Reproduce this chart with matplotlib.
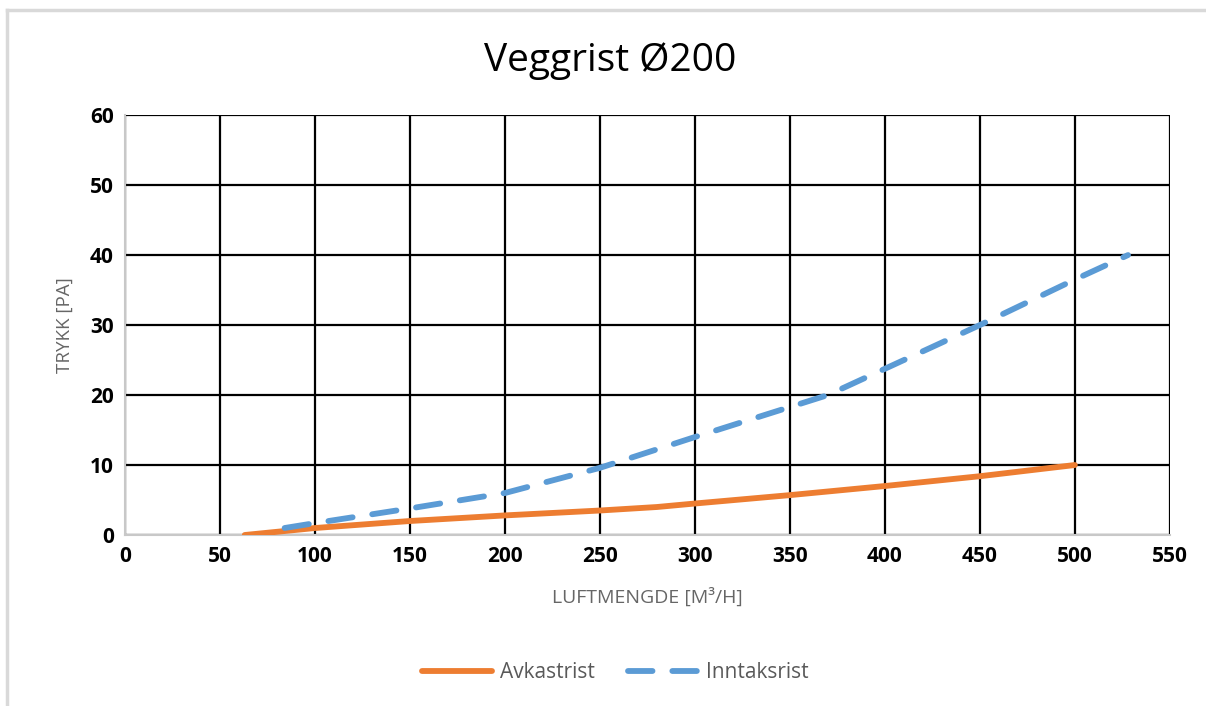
import matplotlib.pyplot as plt
from matplotlib.lines import Line2D

plt.rcParams['font.family'] = ['Open Sans', 'DejaVu Sans']

# data
avkast_x = [63, 100, 150, 200, 250, 280, 300, 350, 400, 450, 500]
avkast_y = [0, 1.0, 2.0, 2.8, 3.5, 4.0, 4.5, 5.7, 7.0, 8.4, 10]

inntak_x = [84, 100, 150, 200, 250, 300, 370, 450, 500, 528]
inntak_y = [1.0, 1.7, 3.8, 6.0, 9.6, 14.0, 20.0, 30.0, 36.5, 40.0]

xticks = list(range(0, 551, 50))
yticks = list(range(0, 61, 10))

fig = plt.figure(figsize=(12.06, 7.06), dpi=100)
ax = fig.add_axes([0.1037, 0.2422, 0.8663, 0.5948])

ax.plot(avkast_x, avkast_y, color='#ED7D31', lw=4.2, solid_capstyle='round',
        label='Avkastrist', zorder=3)
ax.plot(inntak_x, inntak_y, color='#5B9BD5', lw=4.2, dashes=(4.2, 3.4),
        dash_capstyle='round', label='Inntaksrist', zorder=3)

ax.set_xlim(0, 550)
ax.set_ylim(0, 60)
ax.set_xticks(xticks)
ax.set_yticks(yticks)
ax.grid(True, color='black', lw=1.6)
ax.tick_params(length=0, labelsize=15, pad=8)
for lab in ax.get_xticklabels() + ax.get_yticklabels():
    lab.set_fontweight('bold')

for s in ['top', 'right']:
    ax.spines[s].set_visible(False)
for s in ['left', 'bottom']:
    ax.spines[s].set_color('#C8C8C8')
    ax.spines[s].set_linewidth(1.5)

ax.set_xlabel('LUFTMENGDE [M³/H]', color='#666666', fontsize=14, labelpad=15)
ax.set_ylabel('TRYKK [PA]', color='#666666', fontsize=13.5, labelpad=12)

fig.text(0.506, 0.914, 'Veggrist Ø200', ha='center', va='center', fontsize=28)

leg = fig.legend(loc='center', bbox_to_anchor=(0.51, 0.047), ncol=2, frameon=False,
                 fontsize=15, handlelength=3.4, columnspacing=1.6, handletextpad=0.35)
for t in leg.get_texts():
    t.set_color('#595959')

# outer chart border (top and left visible)
fig.add_artist(Line2D([7 / 1206, 1], [1 - 10 / 706, 1 - 10 / 706], color='#D9D9D9', lw=2.5))
fig.add_artist(Line2D([7 / 1206, 7 / 1206], [0, 1 - 10 / 706], color='#D9D9D9', lw=2.5))

fig.savefig('out.png', dpi=100)
